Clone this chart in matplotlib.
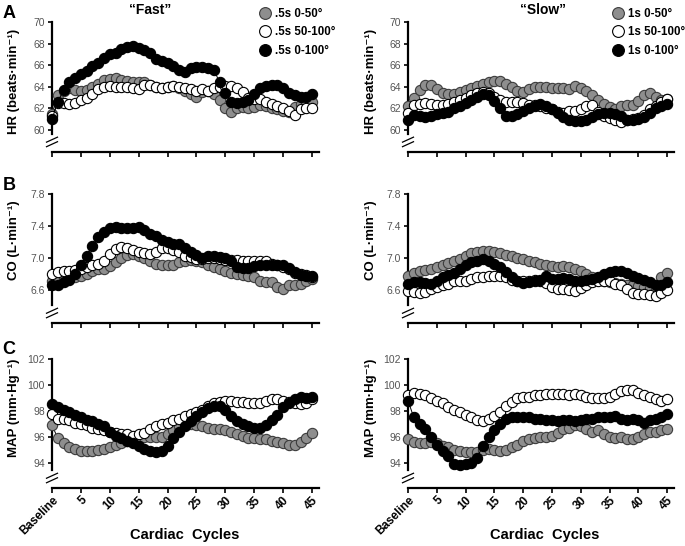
import matplotlib.pyplot as plt
from matplotlib.lines import Line2D

plt.rcParams['font.family'] = ['Liberation Sans', 'DejaVu Sans']

cycles = list(range(46))
xtick_pos = [0, 5, 10, 15, 20, 25, 30, 35, 40, 45]
xtick_lab = ['Baseline', '5', '10', '15', '20', '25', '30', '35', '40', '45']

fast_labels = ['.5s 0-50°', '.5s 50-100°', '.5s 0-100°']
slow_labels = ['1s 0-50°', '1s 50-100°', '1s 0-100°']

# HR (beats/min)
hr_fast_050 = [61.5, 63.2, 63.6, 63.9, 63.7, 63.6, 63.7, 64.0, 64.3, 64.6, 64.7, 64.8, 64.6, 64.5, 64.4, 64.4,
               64.4, 64.2, 64.0, 63.9, 64.0, 64.1, 63.9, 63.6, 63.3, 63.1, 63.5, 63.6, 63.3, 62.8, 62.0, 61.7,
               62.0, 62.1, 62.0, 62.1, 62.3, 62.2, 62.0, 61.9, 61.8, 61.7, 62.1, 62.4, 62.6, 62.6]
hr_fast_50100 = [61.3, 62.5, 62.5, 62.4, 62.5, 62.8, 63.0, 63.3, 63.8, 64.0, 64.1, 64.0, 64.0, 64.0, 63.9, 63.8,
                 64.2, 64.2, 64.0, 63.9, 64.0, 64.1, 64.0, 63.9, 63.8, 63.6, 63.8, 63.6, 63.9, 64.0, 64.1, 64.1,
                 63.9, 63.5, 63.0, 62.9, 62.9, 62.6, 62.4, 62.2, 62.0, 61.8, 61.4, 61.9, 62.0, 62.0]
hr_fast_0100 = [61.0, 62.6, 63.7, 64.4, 64.8, 65.2, 65.5, 65.9, 66.2, 66.7, 67.0, 67.1, 67.5, 67.7, 67.8, 67.6,
                67.4, 67.1, 66.6, 66.4, 66.2, 65.9, 65.6, 65.4, 65.7, 65.8, 65.8, 65.7, 65.6, 64.4, 63.4, 62.6,
                62.5, 62.6, 62.8, 63.3, 63.9, 64.1, 64.2, 64.2, 63.9, 63.4, 63.2, 63.1, 63.1, 63.3]
hr_slow_050 = [62.2, 63.0, 63.7, 64.2, 64.2, 63.8, 63.4, 63.3, 63.3, 63.5, 63.7, 63.9, 64.1, 64.3, 64.4, 64.5,
               64.5, 64.3, 64.0, 63.6, 63.5, 63.8, 64.0, 64.0, 64.0, 63.9, 63.9, 63.9, 63.8, 64.1, 63.9, 63.6,
               63.2, 62.8, 62.4, 62.1, 61.9, 62.2, 62.3, 62.3, 62.7, 63.2, 63.4, 63.1, 62.8, 62.9]
hr_slow_50100 = [61.6, 62.3, 62.4, 62.5, 62.4, 62.3, 62.3, 62.4, 62.6, 62.8, 63.0, 63.2, 63.4, 63.5, 63.4, 63.1,
                 62.8, 62.6, 62.6, 62.6, 62.5, 62.3, 62.3, 62.2, 62.0, 61.9, 61.7, 61.6, 61.8, 61.8, 61.9, 62.2,
                 62.3, 61.7, 61.3, 61.1, 60.9, 60.7, 60.9, 61.0, 61.1, 61.4, 61.9, 62.2, 62.6, 62.9]
hr_slow_0100 = [60.9, 61.4, 61.3, 61.2, 61.3, 61.5, 61.6, 61.7, 62.0, 62.2, 62.5, 62.8, 63.1, 63.3, 63.2, 62.7,
                62.0, 61.3, 61.3, 61.5, 61.8, 62.0, 62.2, 62.4, 62.2, 61.9, 61.6, 61.2, 60.9, 60.8, 60.8, 60.9,
                61.2, 61.5, 61.6, 61.6, 61.5, 61.3, 60.9, 60.9, 61.0, 61.2, 61.6, 62.0, 62.2, 62.4]

# CO (L/min)
co_fast_050 = [6.72, 6.73, 6.74, 6.74, 6.76, 6.78, 6.80, 6.84, 6.86, 6.87, 6.90, 6.95, 7.00, 7.04, 7.05, 7.03,
               7.00, 6.96, 6.93, 6.92, 6.91, 6.92, 6.95, 6.97, 6.98, 6.97, 6.95, 6.92, 6.89, 6.86, 6.84, 6.82,
               6.80, 6.79, 6.78, 6.77, 6.72, 6.70, 6.70, 6.64, 6.62, 6.67, 6.66, 6.68, 6.72, 6.74]
co_fast_50100 = [6.80, 6.83, 6.84, 6.84, 6.85, 6.86, 6.89, 6.92, 6.93, 6.97, 7.05, 7.11, 7.14, 7.13, 7.10, 7.07,
                 7.06, 7.05, 7.08, 7.12, 7.12, 7.10, 7.07, 7.03, 7.01, 6.99, 6.99, 7.00, 7.00, 6.99, 6.98, 6.98,
                 6.98, 6.97, 6.97, 6.96, 6.97, 6.96, 6.93, 6.91, 6.89, 6.86, 6.82, 6.80, 6.79, 6.77]
co_fast_0100 = [6.66, 6.67, 6.70, 6.73, 6.80, 6.92, 7.03, 7.15, 7.26, 7.33, 7.37, 7.39, 7.38, 7.38, 7.38, 7.39,
                7.35, 7.30, 7.27, 7.23, 7.20, 7.18, 7.17, 7.12, 7.08, 7.04, 7.00, 7.02, 7.02, 7.01, 7.00, 6.96,
                6.89, 6.88, 6.88, 6.90, 6.92, 6.92, 6.91, 6.92, 6.91, 6.88, 6.83, 6.79, 6.78, 6.78]
co_slow_050 = [6.78, 6.82, 6.84, 6.85, 6.87, 6.89, 6.92, 6.94, 6.96, 6.99, 7.02, 7.06, 7.08, 7.09, 7.09, 7.08,
               7.06, 7.04, 7.02, 7.00, 6.99, 6.97, 6.95, 6.93, 6.91, 6.90, 6.89, 6.90, 6.89, 6.87, 6.84, 6.80,
               6.76, 6.74, 6.72, 6.70, 6.69, 6.68, 6.67, 6.66, 6.65, 6.64, 6.63, 6.62, 6.76, 6.81]
co_slow_50100 = [6.59, 6.58, 6.57, 6.58, 6.61, 6.64, 6.66, 6.68, 6.71, 6.72, 6.72, 6.74, 6.76, 6.77, 6.78, 6.78,
                 6.78, 6.76, 6.73, 6.71, 6.71, 6.72, 6.73, 6.72, 6.69, 6.64, 6.62, 6.61, 6.60, 6.59, 6.63, 6.67,
                 6.70, 6.72, 6.72, 6.71, 6.68, 6.66, 6.61, 6.56, 6.55, 6.55, 6.54, 6.53, 6.56, 6.60]
co_slow_0100 = [6.68, 6.70, 6.70, 6.69, 6.68, 6.72, 6.76, 6.79, 6.82, 6.86, 6.91, 6.95, 6.97, 6.99, 6.96, 6.93,
                6.89, 6.83, 6.77, 6.72, 6.69, 6.70, 6.72, 6.73, 6.78, 6.74, 6.74, 6.75, 6.74, 6.71, 6.71, 6.73,
                6.74, 6.77, 6.80, 6.83, 6.84, 6.84, 6.82, 6.78, 6.75, 6.73, 6.70, 6.66, 6.67, 6.70]

# MAP (mmHg)
map_fast_050 = [96.9, 95.9, 95.5, 95.2, 95.1, 94.9, 94.9, 94.9, 95.0, 95.1, 95.2, 95.4, 95.5, 95.7, 95.8, 95.9,
                96.0, 96.0, 96.0, 96.0, 96.2, 96.5, 96.8, 97.0, 97.0, 96.9, 96.8, 96.7, 96.6, 96.6, 96.5, 96.4,
                96.2, 96.1, 95.9, 95.9, 95.8, 95.8, 95.7, 95.6, 95.5, 95.4, 95.4, 95.6, 95.9, 96.3]
map_fast_50100 = [97.8, 97.4, 97.4, 97.3, 97.1, 97.0, 96.9, 96.7, 96.6, 96.5, 96.4, 96.3, 96.2, 96.2, 96.1, 96.2,
                  96.3, 96.6, 96.8, 97.0, 97.1, 97.3, 97.4, 97.6, 97.8, 97.9, 98.1, 98.4, 98.6, 98.7, 98.8, 98.8,
                  98.7, 98.7, 98.6, 98.6, 98.6, 98.8, 98.9, 98.9, 98.8, 98.7, 98.6, 98.5, 98.6, 98.9]
map_fast_0100 = [98.5, 98.3, 98.1, 97.9, 97.7, 97.5, 97.3, 97.2, 97.0, 96.8, 96.4, 96.1, 95.9, 95.7, 95.5, 95.3,
                 95.1, 94.9, 94.8, 94.9, 95.3, 95.9, 96.4, 96.8, 97.2, 97.6, 97.9, 98.2, 98.4, 98.4, 98.1, 97.6,
                 97.2, 97.0, 96.8, 96.7, 96.7, 96.9, 97.3, 97.7, 98.3, 98.6, 98.9, 99.1, 99.0, 99.1]
map_slow_050 = [95.8, 95.6, 95.5, 95.5, 95.6, 95.5, 95.3, 95.2, 95.0, 94.9, 94.8, 94.8, 94.8, 95.0, 95.1, 95.0,
                94.9, 95.0, 95.2, 95.4, 95.7, 95.8, 95.9, 96.0, 96.0, 96.1, 96.3, 96.6, 96.7, 96.9, 96.8, 96.6,
                96.4, 96.5, 96.2, 96.0, 95.9, 96.0, 95.8, 95.8, 96.0, 96.2, 96.4, 96.4, 96.5, 96.6]
map_slow_50100 = [99.2, 99.4, 99.3, 99.2, 99.0, 98.8, 98.6, 98.3, 98.1, 97.9, 97.7, 97.5, 97.3, 97.2, 97.4, 97.6,
                  97.9, 98.4, 98.7, 99.0, 99.1, 99.1, 99.2, 99.2, 99.3, 99.3, 99.3, 99.3, 99.2, 99.3, 99.2, 99.1,
                  99.0, 99.0, 99.0, 99.1, 99.3, 99.5, 99.6, 99.6, 99.4, 99.2, 99.1, 98.9, 98.8, 98.9]
map_slow_0100 = [98.8, 97.5, 97.0, 96.6, 96.0, 95.4, 94.9, 94.5, 93.9, 93.8, 93.9, 94.0, 94.4, 95.3, 96.0, 96.5,
                 97.0, 97.4, 97.5, 97.5, 97.5, 97.5, 97.4, 97.4, 97.3, 97.3, 97.2, 97.3, 97.3, 97.2, 97.3, 97.4,
                 97.4, 97.5, 97.5, 97.5, 97.6, 97.4, 97.3, 97.4, 97.3, 97.1, 97.3, 97.4, 97.5, 97.8]

face_colors = ['#8e8e8e', 'white', 'black']
edge_colors = ['#3c3c3c', 'black', 'black']

rows = [
    ('HR (beats·min⁻¹)', (57.96, 70), [60, 62, 64, 66, 68, 70], '{:.0f}',
     [hr_fast_050, hr_fast_50100, hr_fast_0100], [hr_slow_050, hr_slow_50100, hr_slow_0100], 0.54),
    ('CO (L·min⁻¹)', (6.19, 7.8), [6.6, 7.0, 7.4, 7.8], '{:.1f}',
     [co_fast_050, co_fast_50100, co_fast_0100], [co_slow_050, co_slow_50100, co_slow_0100], 0.64),
    ('MAP (mm·Hg⁻¹)', (92.06, 102), [94, 96, 98, 100, 102], '{:.0f}',
     [map_fast_050, map_fast_50100, map_fast_0100], [map_slow_050, map_slow_50100, map_slow_0100], 0.62),
]

fig = plt.figure(figsize=(6.85, 5.46), dpi=100)
W, H = 685, 546
row_px = [(22, 152), (194, 323), (359, 488)]
col_px = [(52, 319), (408, 674)]

for r, (ylab, ylim, yticks, fmt, fast, slow, ylab_y) in enumerate(rows):
    top, bot = row_px[r]
    for c, series in enumerate([fast, slow]):
        left, right = col_px[c]
        ax = fig.add_axes([left / W, 1 - bot / H, (right - left) / W, (bot - top) / H])
        for k in range(3):
            ax.plot(cycles, series[k], '-o', color='black', lw=0.7, ms=7.4,
                    mfc=face_colors[k], mec=edge_colors[k], mew=0.8, clip_on=False, zorder=3 + k)
        ax.set_xlim(0, 46.2)
        ax.set_ylim(*ylim)
        ax.spines['top'].set_visible(False)
        ax.spines['right'].set_visible(False)
        ax.spines['left'].set_linewidth(1.6)
        ax.spines['bottom'].set_linewidth(1.6)
        lo = ylim[0] + 0.14 * (ylim[1] - ylim[0])
        ax.spines['left'].set_bounds(lo, ylim[1])
        ax.set_yticks(yticks)
        ax.set_yticklabels([fmt.format(v) for v in yticks], fontsize=7.5, color='#555555')
        ax.tick_params(axis='y', direction='out', length=3, width=1.2, pad=2)
        ax.tick_params(axis='x', direction='out', length=3.5, width=1.2, pad=1)
        ax.set_xticks(xtick_pos)
        if r == 2:
            ax.set_xticklabels(xtick_lab, rotation=45, ha='right', rotation_mode='anchor',
                               fontsize=8.5, fontweight='bold')
        else:
            ax.set_xticklabels([])
        ax.set_ylabel(ylab, fontsize=9.5, fontweight='bold')
        ax.yaxis.set_label_coords(-0.118, ylab_y)
        # axis break marks
        dx = 5.5 / (right - left)
        dy = 2.5 / (bot - top)
        for yb in [0.095, 0.06]:
            ax.plot([-dx, dx], [yb - dy, yb + dy], transform=ax.transAxes,
                    color='black', lw=0.9, clip_on=False)
        if r == 0:
            labels = fast_labels if c == 0 else slow_labels
            handles = [Line2D([], [], ls='none', marker='o', ms=8.5, mfc=face_colors[k],
                              mec=edge_colors[k], mew=0.8) for k in range(3)]
            lx = 258 if c == 0 else 611
            fig.legend(handles, labels, loc='upper left', bbox_to_anchor=(lx / W, 1 - 8 / H),
                       frameon=False, prop={'weight': 'bold', 'size': 8.3}, handletextpad=0.3,
                       labelspacing=0.55, handlelength=1.2, borderaxespad=0, borderpad=0)

fig.text(150 / W, 1 - 10 / H, '“Fast”', ha='center', va='center', fontsize=10, fontweight='bold')
fig.text(543 / W, 1 - 10 / H, '“Slow”', ha='center', va='center', fontsize=10, fontweight='bold')
fig.text(185 / W, 1 - 535 / H, 'Cardiac  Cycles', ha='center', va='center', fontsize=10.5, fontweight='bold')
fig.text(545 / W, 1 - 535 / H, 'Cardiac  Cycles', ha='center', va='center', fontsize=10.5, fontweight='bold')
for letter, yy in [('A', 14), ('B', 185), ('C', 350)]:
    fig.text(9 / W, 1 - yy / H, letter, ha='center', va='center', fontsize=13, fontweight='bold')

fig.savefig('out.png', dpi=100)
